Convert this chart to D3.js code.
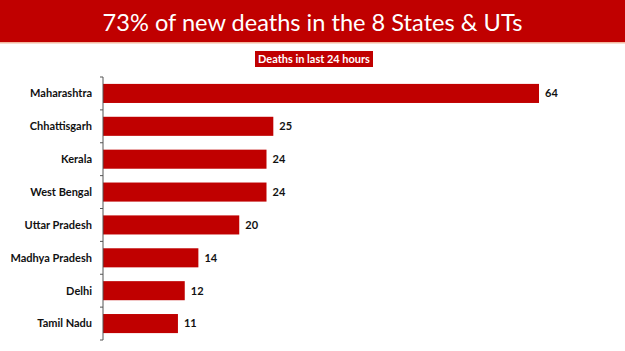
<!DOCTYPE html>
<html><head><meta charset="utf-8">
<script src="https://cdn.jsdelivr.net/npm/d3@7"></script>
<style>body{margin:0;background:#fff}svg{display:block}</style>
</head><body>
<script>
const titleText = "73% of new deaths in the 8 States & UTs";
const subtitleText = "Deaths in last 24 hours";
const categories = ["Maharashtra","Chhattisgarh","Kerala","West Bengal","Uttar Pradesh","Madhya Pradesh","Delhi","Tamil Nadu"];
const deaths = [64,25,24,24,20,14,12,11];

const W = 625, H = 351;
const red = "#C00000";
const svg = d3.select("body").append("svg").attr("width", W).attr("height", H);

// Title band
svg.append("rect").attr("x",0).attr("y",0).attr("width",W).attr("height",42).attr("fill",red);
svg.append("rect").attr("x",0).attr("y",42).attr("width",W).attr("height",1.5).attr("fill","#F2B8A0");
const title = svg.append("text").attr("x",312.5).attr("y",31).attr("text-anchor","middle")
  .attr("fill","#fff").style("font-family","Lato, 'Open Sans', sans-serif").style("font-size","27px")
  .text(titleText);
const tw = title.node().getComputedTextLength();
if (tw > 0) title.style("font-size", (27*420/tw) + "px");

// Subtitle box
svg.append("rect").attr("x",255).attr("y",51).attr("width",118).attr("height",16).attr("fill",red);
const sub = svg.append("text").attr("x",314).attr("y",63).attr("text-anchor","middle")
  .attr("fill","#fff").style("font-family","Lato, 'Open Sans', sans-serif").style("font-weight","bold").style("font-size","10.5px")
  .text(subtitleText);
const sw = sub.node().getComputedTextLength();
if (sw > 0) sub.style("font-size", (10.5*112/sw) + "px");

// Chart
const x0 = 103, plotTop = 77, plotBottom = 340;
const x = d3.scaleLinear().domain([0,64]).range([x0, 539]);
const y = d3.scaleBand().domain(categories).range([plotTop, plotBottom]).paddingInner(0.42).paddingOuter(0.21);

svg.append("g").selectAll("rect").data(categories).join("rect")
  .attr("x", x(0)).attr("y", d => y(d))
  .attr("width", (d,i) => x(deaths[i]) - x(0)).attr("height", y.bandwidth())
  .attr("fill", red);

// axis line & ticks at band boundaries
const step = (plotBottom - plotTop) / categories.length;
const ax = svg.append("g").attr("stroke","#555").attr("stroke-width",1);
ax.append("line").attr("x1",x0).attr("x2",x0).attr("y1",plotTop).attr("y2",plotBottom);
d3.range(categories.length+1).forEach(i => {
  const yy = plotTop + i*step;
  ax.append("line").attr("x1",x0-3).attr("x2",x0).attr("y1",yy).attr("y2",yy);
});

// category labels
svg.append("g").selectAll("text").data(categories).join("text")
  .attr("x", 92).attr("y", d => y(d) + y.bandwidth()/2).attr("dy","0.35em")
  .attr("text-anchor","end").style("font-family","Lato, 'Open Sans', sans-serif")
  .style("font-weight","bold").style("font-size","11px").attr("fill","#111")
  .text(d => d);

// value labels
svg.append("g").selectAll("text").data(categories).join("text")
  .attr("x", (d,i) => x(deaths[i]) + 6).attr("y", d => y(d) + y.bandwidth()/2).attr("dy","0.35em")
  .style("font-family","Lato, 'Open Sans', sans-serif")
  .style("font-weight","bold").style("font-size","11px").attr("fill","#111")
  .text((d,i) => deaths[i]);
</script>
</body></html>
